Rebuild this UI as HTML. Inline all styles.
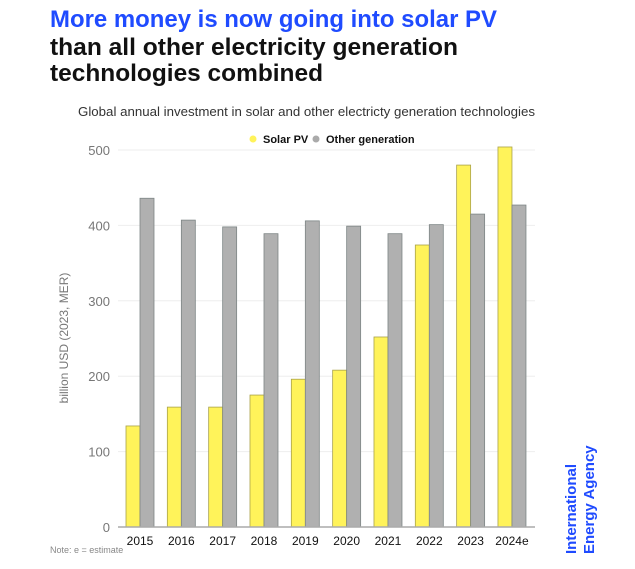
<!DOCTYPE html>
<html><head><meta charset="utf-8"><style>
html,body{margin:0;padding:0;background:#fff;}
svg{display:block;font-family:"Liberation Sans",sans-serif;}
</style></head><body>
<svg id="chart" width="635" height="569" viewBox="0 0 635 569">
<text x="50" y="27" font-size="24" font-weight="bold" fill="#1f4bff" textLength="447" lengthAdjust="spacingAndGlyphs">More money is now going into solar PV</text>
<text x="50" y="55" font-size="24" font-weight="bold" fill="#111" textLength="408" lengthAdjust="spacingAndGlyphs">than all other electricity generation</text>
<text x="50" y="81" font-size="24" font-weight="bold" fill="#111" textLength="273" lengthAdjust="spacingAndGlyphs">technologies combined</text>
<text x="78" y="116" font-size="13" fill="#333" textLength="457" lengthAdjust="spacingAndGlyphs">Global annual investment in solar and other electricty generation technologies</text>
<g>
<circle cx="253" cy="139" r="3.5" fill="#fff35a"/>
<text x="263" y="143" font-size="11" font-weight="bold" fill="#111">Solar PV</text>
<circle cx="316" cy="139" r="3.5" fill="#aaa"/>
<text x="326" y="143" font-size="11" font-weight="bold" fill="#111">Other generation</text>
</g>
<text transform="translate(68,338) rotate(-90)" text-anchor="middle" font-size="12" fill="#777">billion USD (2023, MER)</text>
<g id="grid"></g><g id="bars"></g><g id="xlabels"></g>
<line x1="118" x2="535" y1="527" y2="527" stroke="#aaa" stroke-width="1.5"/>
<text x="50" y="553" font-size="9" fill="#888">Note: e = estimate</text>
<text transform="translate(576,554) rotate(-90)" font-size="15" font-weight="bold" fill="#1f4bff">International</text>
<text transform="translate(594,554) rotate(-90)" font-size="15" font-weight="bold" fill="#1f4bff">Energy Agency</text>
</svg>
<script>
const categories=["2015","2016","2017","2018","2019","2020","2021","2022","2023","2024e"];
const solarValues=[134,159,159,175,196,208,252,374,480,504];
const otherValues=[436,407,398,389,406,399,389,401,415,427];
const yTicks=[0,100,200,300,400,500];
const NS="http://www.w3.org/2000/svg";
function y(v){return 527-v*0.754;}
function xc(i){return 140+i*41.33;}
function mk(t,a,p){const e=document.createElementNS(NS,t);for(const k in a)e.setAttribute(k,a[k]);p.appendChild(e);return e;}
const grid=document.getElementById('grid'),bars=document.getElementById('bars'),xl=document.getElementById('xlabels');
yTicks.forEach(v=>{
 if(v>0){const l=mk('line',{x1:118,x2:535,y1:y(v),y2:y(v),stroke:'#eee'},grid);
 
 }
 const t=mk('text',{x:110,y:y(v)+5,'text-anchor':'end','font-size':13,fill:'#777'},grid);
 t.textContent=v;
 
 
});
categories.forEach((c,i)=>{
 const s=mk('rect',{x:xc(i)-14,y:y(solarValues[i]),width:14,height:solarValues[i]*0.754,fill:'#fff35a',stroke:'#a9a24a','stroke-width':0.8},bars);
 
 
 const o=mk('rect',{x:xc(i),y:y(otherValues[i]),width:14,height:otherValues[i]*0.754,fill:'#b0b0b0',stroke:'#7d8585','stroke-width':0.8},bars);
 
 
 const t=mk('text',{x:xc(i),y:545,'text-anchor':'middle','font-size':12,fill:'#111'},xl);
 t.textContent=c;
 
 
});
</script>
</body></html>
